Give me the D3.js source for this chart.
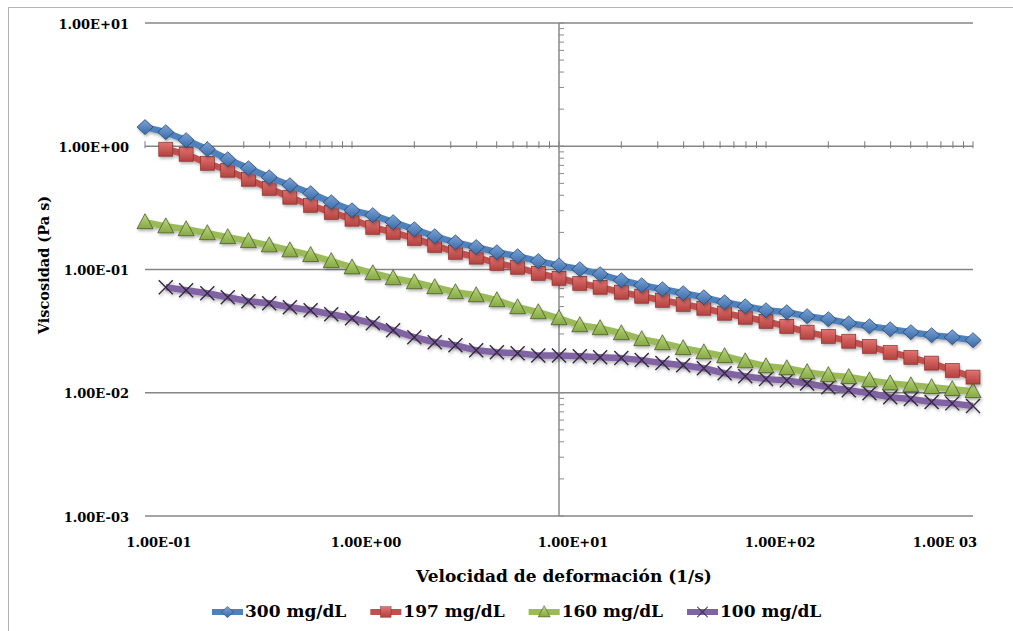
<!DOCTYPE html>
<html>
<head>
<meta charset="utf-8">
<script src="https://cdn.jsdelivr.net/npm/d3@7"></script>
<style>
  body { margin: 0; background: #fff; }
  text { font-family: "DejaVu Serif", serif; font-weight: bold; fill: #000; }
</style>
</head>
<body>
<div id="chart"></div>
<script>
// Shear rate (1/s), 10 points per decade
const shearRates = [0.1, 0.126, 0.158, 0.2, 0.251, 0.316, 0.398, 0.501, 0.631, 0.794,
    1, 1.26, 1.58, 2, 2.51, 3.16, 3.98, 5.01, 6.31, 7.94,
    10, 12.6, 15.8, 20, 25.1, 31.6, 39.8, 50.1, 63.1, 79.4,
    100, 126, 158, 200, 251, 316, 398, 501, 631, 794, 1000];

// Viscosity (Pa s) per glucose level
const visc300 = [1.43, 1.30, 1.12, 0.946, 0.784, 0.663, 0.560, 0.483, 0.416, 0.351,
    0.302, 0.276, 0.242, 0.212, 0.186, 0.166, 0.152, 0.138, 0.128, 0.117,
    0.108, 0.1005, 0.0915, 0.0818, 0.0745, 0.0692, 0.0642, 0.0595, 0.0542, 0.0503,
    0.0467, 0.0450, 0.0418, 0.0395, 0.0366, 0.0346, 0.0327, 0.0310, 0.0293, 0.0282, 0.0267];
const visc197 = [null, 0.946, 0.861, 0.728, 0.639, 0.540, 0.456, 0.386, 0.332, 0.291,
    0.256, 0.220, 0.2005, 0.179, 0.157, 0.138, 0.126, 0.1124, 0.1043, 0.0932,
    0.0849, 0.0773, 0.0718, 0.0654, 0.0607, 0.0563, 0.0522, 0.0485, 0.0442, 0.0410,
    0.0380, 0.0346, 0.0310, 0.0287, 0.0262, 0.0238, 0.0213, 0.0194, 0.0174, 0.0152, 0.0134];
const visc160 = [0.242, 0.224, 0.212, 0.197, 0.183, 0.170, 0.157, 0.143, 0.131, 0.117,
    0.104, 0.0932, 0.0849, 0.0788, 0.0718, 0.0654, 0.0618, 0.0563, 0.0494, 0.0450,
    0.0402, 0.0353, 0.0334, 0.0304, 0.0272, 0.0252, 0.0230, 0.0213, 0.0198, 0.0180,
    0.0164, 0.0158, 0.0147, 0.0139, 0.0134, 0.0126, 0.0119, 0.0115, 0.0111, 0.0107, 0.0103];
const visc100 = [null, 0.0718, 0.0679, 0.0642, 0.0595, 0.0553, 0.0532, 0.0494, 0.0467, 0.0433,
    0.0402, 0.0366, 0.0321, 0.0282, 0.0257, 0.0243, 0.0221, 0.0213, 0.0209, 0.0201,
    0.0201, 0.0198, 0.0194, 0.0191, 0.0184, 0.0174, 0.0167, 0.0158, 0.0144, 0.0136,
    0.0129, 0.0126, 0.0119, 0.0111, 0.0105, 0.0099, 0.0092, 0.0089, 0.0084, 0.0082, 0.0078];

const seriesNames = ["300 mg/dL", "197 mg/dL", "160 mg/dL", "100 mg/dL"];

// Tick values and their labels (as printed on the original)
const xTickValues = [0.1, 1, 10, 100, 1000];
const xTickLabels = ["1.00E-01", "1.00E+00", "1.00E+01", "1.00E+02", "1.00E 03"];
const yTickValues = [0.001, 0.01, 0.1, 1, 10];
const yTickLabels = ["1.00E-03", "1.00E-02", "1.00E-01", "1.00E+00", "1.00E+01"];

const width = 1013;
const height = 631;

const svg = d3.select("#chart").append("svg")
    .attr("width", width)
    .attr("height", height);

const defs = svg.append("defs");
const shadow = defs.append("filter").attr("id", "shadow")
    .attr("x", "-20%").attr("y", "-20%").attr("width", "140%").attr("height", "140%");
shadow.append("feDropShadow")
    .attr("dx", 1).attr("dy", 2).attr("stdDeviation", 1.6)
    .attr("flood-color", "#000").attr("flood-opacity", 0.3);

const styles = [
    { line: "#4f81bd", light: "#7ba4d8", dark: "#3a6aa6", edge: "#1f3d63", shape: "diamond" },
    { line: "#c0504d", light: "#e37471", dark: "#b2413e", edge: "#7a2a28", shape: "square" },
    { line: "#9bbb59", light: "#bcd97f", dark: "#86a845", edge: "#3e4d20", shape: "triangle" },
    { line: "#8064a2", light: "#8064a2", dark: "#8064a2", edge: "#35293f", shape: "cross" }
];

styles.forEach((s, i) => {
    const g = defs.append("linearGradient").attr("id", "grad" + i)
        .attr("x1", 0).attr("y1", 0).attr("x2", 0).attr("y2", 1);
    g.append("stop").attr("offset", "0%").attr("stop-color", s.light);
    g.append("stop").attr("offset", "100%").attr("stop-color", s.dark);
});

// Chart area border (top + left visible)
svg.append("rect")
    .attr("x", 8.5).attr("y", 7.5)
    .attr("width", 1020).attr("height", 640)
    .attr("fill", "none")
    .attr("stroke", "#b5b5b5")
    .attr("stroke-width", 1);

const x = d3.scaleLog().domain([0.1, 1000]).range([145, 973]);
const y = d3.scaleLog().domain([0.001, 10]).range([516, 23]);

// Horizontal gridlines
svg.append("g")
    .selectAll("line")
    .data(yTickValues)
    .enter().append("line")
    .attr("x1", x(0.1)).attr("x2", x(1000))
    .attr("y1", d => y(d)).attr("y2", d => y(d))
    .attr("stroke", "#868686")
    .attr("stroke-width", 1.3);

// Minor tick values for log axes
const minorX = x.ticks();
const minorY = y.ticks();

// Horizontal axis drawn at y = 1
const xAxisY = y(1);
svg.append("g")
    .selectAll("line")
    .data(minorX)
    .enter().append("line")
    .attr("x1", d => x(d)).attr("x2", d => x(d))
    .attr("y1", xAxisY - 5).attr("y2", xAxisY + 2)
    .attr("stroke", "#7a7a7a")
    .attr("stroke-width", 1);

// Vertical axis drawn at x = 10
const yAxisX = x(10);
svg.append("line")
    .attr("x1", yAxisX).attr("x2", yAxisX)
    .attr("y1", y(10)).attr("y2", y(0.001))
    .attr("stroke", "#8a8a8a")
    .attr("stroke-width", 1.5);
svg.append("g")
    .selectAll("line")
    .data(minorY)
    .enter().append("line")
    .attr("x1", yAxisX).attr("x2", yAxisX + 5)
    .attr("y1", d => y(d)).attr("y2", d => y(d))
    .attr("stroke", "#8a8a8a")
    .attr("stroke-width", 1);

// Y tick labels
svg.append("g")
    .selectAll("text")
    .data(yTickValues)
    .enter().append("text")
    .attr("x", 129)
    .attr("y", d => y(d) + 2)
    .attr("text-anchor", "end")
    .attr("dominant-baseline", "middle")
    .style("font-size", "13px")
    .text((d, i) => yTickLabels[i]);

// X tick labels (sit below the plot area, shifted right like the original)
const xLabels = svg.append("g")
    .selectAll("text")
    .data(xTickValues)
    .enter().append("text")
    .attr("x", d => x(d) + 14)
    .attr("y", 543)
    .attr("text-anchor", "middle")
    .attr("dominant-baseline", "middle")
    .style("font-size", "13px")
    .text((d, i) => xTickLabels[i]);
xLabels.each(function() {
    const w = this.getComputedTextLength();
    const cx = +d3.select(this).attr("x");
    if (cx + w / 2 > x(1000) + 4) d3.select(this).attr("x", x(1000) + 4 - w / 2);
});

// Axis titles
svg.append("text")
    .attr("x", 564).attr("y", 577)
    .attr("text-anchor", "middle")
    .attr("dominant-baseline", "middle")
    .style("font-size", "17px")
    .text("Velocidad de deformación (1/s)");

svg.append("text")
    .attr("transform", "translate(45,265) rotate(-90)")
    .attr("text-anchor", "middle")
    .attr("dominant-baseline", "middle")
    .style("font-size", "14.5px")
    .text("Viscosidad (Pa s)");

// Marker drawing
function drawMarker(sel, s, i) {
    if (s.shape === "diamond") {
        sel.append("path").attr("d", "M0,-7.5L8,0L0,7.5L-8,0Z")
            .attr("fill", "url(#grad" + i + ")").attr("stroke", s.edge).attr("stroke-width", 0.7);
    } else if (s.shape === "square") {
        sel.append("rect").attr("x", -7).attr("y", -7).attr("width", 14).attr("height", 14)
            .attr("fill", "url(#grad" + i + ")").attr("stroke", s.edge).attr("stroke-width", 0.6);
    } else if (s.shape === "triangle") {
        sel.append("path").attr("d", "M0,-8.5L8,6.5L-8,6.5Z")
            .attr("fill", "url(#grad" + i + ")").attr("stroke", s.edge).attr("stroke-width", 0.7);
    } else {
        sel.append("path").attr("d", "M-7,-7L7,7M-7,7L7,-7")
            .attr("fill", "none").attr("stroke", s.edge).attr("stroke-width", 1.4);
    }
}

const allSeries = [visc300, visc197, visc160, visc100];

const line = d3.line()
    .defined(d => d[1] != null)
    .x(d => x(d[0]))
    .y(d => y(d[1]));

// Draw series from lowest to highest so the upper ones sit on top
[3, 2, 1, 0].forEach(i => {
    const s = styles[i];
    const pts = shearRates.map((r, k) => [r, allSeries[i][k]]);
    const g = svg.append("g").attr("filter", "url(#shadow)");
    g.append("path")
        .datum(pts)
        .attr("d", line)
        .attr("fill", "none")
        .attr("stroke", s.line)
        .attr("stroke-width", 6.5)
        .attr("stroke-linejoin", "round");
    g.selectAll("g.m")
        .data(pts.filter(d => d[1] != null))
        .enter().append("g")
        .attr("class", "m")
        .attr("transform", d => `translate(${x(d[0])},${y(d[1])})`)
        .each(function() { drawMarker(d3.select(this), s, i); });
});

// Legend
let lx = 212;
const ly = 612;
seriesNames.forEach((name, i) => {
    const s = styles[i];
    const g = svg.append("g");
    g.append("line")
        .attr("x1", lx).attr("x2", lx + 31)
        .attr("y1", ly).attr("y2", ly)
        .attr("stroke", s.line).attr("stroke-width", 6);
    const m = g.append("g").attr("transform", `translate(${lx + 15.5},${ly}) scale(0.75)`);
    drawMarker(m, s, i);
    const t = g.append("text")
        .attr("x", lx + 33).attr("y", ly)
        .attr("dominant-baseline", "middle")
        .style("font-size", "17px")
        .text(name);
    lx += 33 + t.node().getComputedTextLength() + 24;
});
</script>
</body>
</html>
